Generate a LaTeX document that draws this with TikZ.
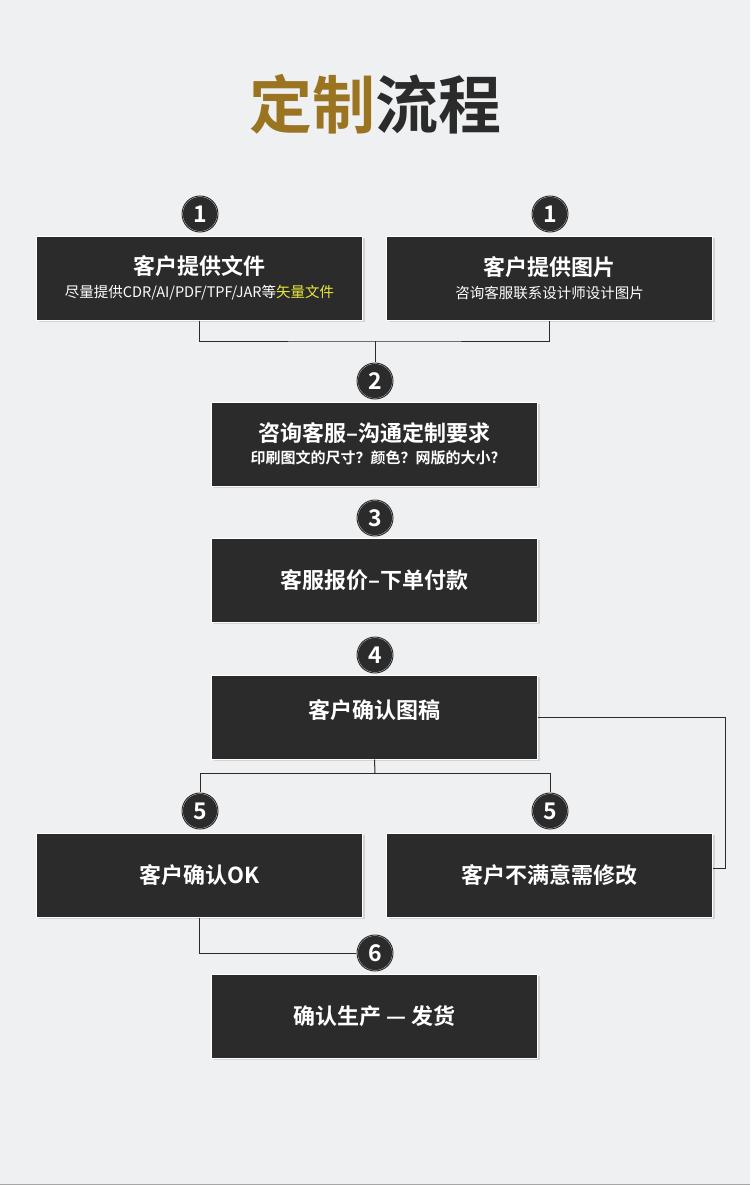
\documentclass[tikz,border=0pt]{standalone}
\usepackage{fontspec}
\setmainfont{Noto Sans CJK SC}
\newfontfamily\cjkb{Noto Sans CJK SC Bold}
\usetikzlibrary{shadows}
\definecolor{bg}{HTML}{EFF0F2}
\definecolor{boxc}{HTML}{2B2B2B}
\definecolor{gold}{HTML}{9A7420}
\definecolor{ylw}{HTML}{E6E83A}
\tikzset{x=1pt,y=-1pt,
 box/.style={fill=boxc,draw=white,line width=1pt,minimum width=326pt,minimum height=84pt,inner sep=0pt,text=white,align=center,drop shadow={shadow xshift=2pt,shadow yshift=-2pt,opacity=0.25}},
 num/.style={circle,fill=boxc,draw=white,line width=1.5pt,minimum size=36pt,inner sep=0pt,text=white,font=\cjkb\fontsize{23}{23}\selectfont,
   postaction={draw=boxc,line width=1pt,circle,minimum size=39pt}},
 conn/.style={draw=boxc,line width=1pt},
}
\newcommand\sub[1]{{\fontsize{14.5}{16}\selectfont #1}}
\newcommand\hd{\cjkb\fontsize{22}{26}\selectfont}
\begin{document}
\begin{tikzpicture}
\useasboundingbox (0,0) rectangle (750,1185);
\fill[bg] (0,0) rectangle (750,1185);
\draw[gray!70,line width=1pt] (0,1184) -- (750,1184);
\node (title) at (375,104) {\cjkb\fontsize{63}{63}\selectfont\textcolor{gold}{定制}\textcolor{boxc}{流程}};
\coordinate (j1) at (375,341);
\coordinate (j2) at (375,773);
\coordinate (lp1) at (725,717);
\coordinate (lp2) at (725,868);
\node[box] (A) at (199.5,278) {\hd 客户提供文件\\[7pt]\sub{尽量提供CDR/AI/PDF/TPF/JAR等\textcolor{ylw}{矢量文件}}};
\node[box] (B) at (549.5,278) {\hd 客户提供图片\\[7pt]\sub{咨询客服联系设计师设计图片}};
\node[box] (C) at (374.5,444) {\hd 咨询客服–沟通定制要求\\[6pt]{\cjkb\fontsize{15}{16}\selectfont 印刷图文的尺寸？颜色？网版的大小?}};
\node[box] (D) at (374.5,580) {\hd 客服报价–下单付款};
\node[box] (E) at (374.5,717) {\raisebox{16pt}{\hd 客户确认图稿}};
\node[box] (F) at (199.5,875) {\hd 客户确认OK};
\node[box] (G) at (549.5,875) {\hd 客户不满意需修改};
\node[box] (H) at (374.5,1016) {\hd 确认生产 — 发货};
\draw[conn] (A.south) |- (j1) -| (B.south);
\draw[conn] (E.south) -- (j2);
\draw[conn] (F.south) |- (375,953) coordinate (j3);
\draw[conn] (E.east) -- (lp1) -- (lp2) -- (G.east |- lp2);
\node[num] (n1a) at (200,214) {1};
\node[num] (n1b) at (550,214) {1};
\node[num] (n2) at (375,381) {2};
\node[num] (n3) at (375,518) {3};
\node[num] (n4) at (375,655) {4};
\node[num] (n5a) at (200,811) {5};
\node[num] (n5b) at (550,811) {5};
\node[num] (n6) at (375,953) {6};
\draw[conn] (j1) -- (n2.north);
\draw[conn] (j2) -| (n5a.north);
\draw[conn] (j2) -| (n5b.north);
\end{tikzpicture}
\end{document}
